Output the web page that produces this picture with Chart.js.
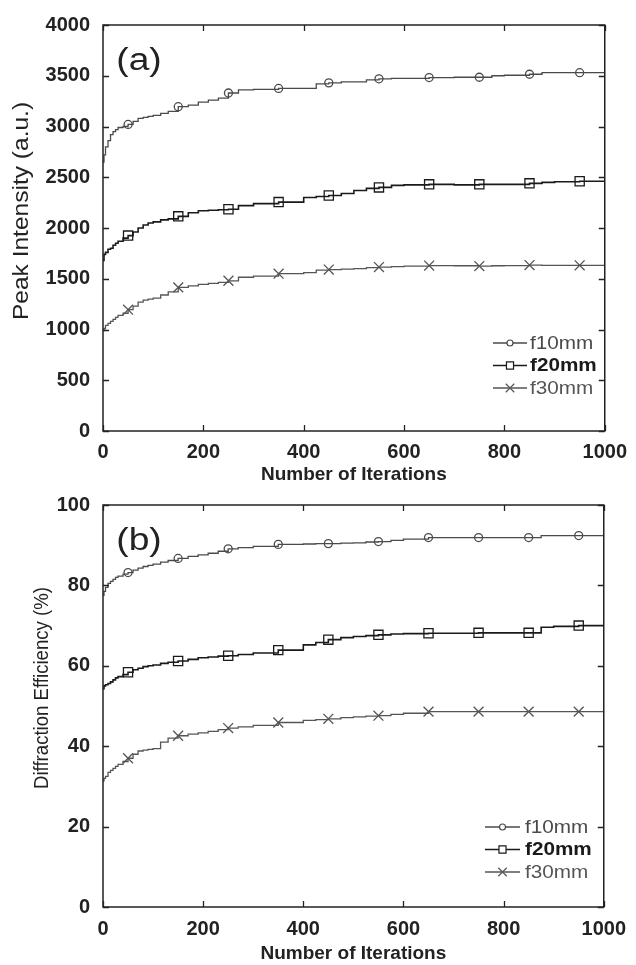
<html>
<head>
<meta charset="utf-8">
<title>Peak intensity and diffraction efficiency vs iterations</title>
<script src="https://cdn.jsdelivr.net/npm/chart.js@4.4.0/dist/chart.umd.min.js"></script>
<style>
    body { margin: 0; background: #fff; }
    .wrap { position: relative; width: 636px; height: 965px; }
    canvas { position: absolute; left: 0; }
    #chartA { top: 0; }
    #chartB { top: 480px; }
</style>
</head>
<body>
<div class="wrap">
    <canvas id="chartA" width="636" height="490"></canvas>
    <canvas id="chartB" width="636" height="485"></canvas>
</div>

<script>
// iteration positions where values were read
var iterations = [0, 2, 5, 10, 15, 20, 25, 30, 40, 50, 60, 70, 80, 90, 100, 115, 130, 150, 170, 190, 210, 230, 250, 270, 300,
    350, 400, 425, 450, 475, 500, 525, 550, 575, 600, 650, 700, 750, 775, 800, 850, 875, 900, 950, 1000];

// (a) peak intensity, a.u.
var peakF10 = [2650, 2720, 2800, 2860, 2920, 2950, 2970, 2990, 3000, 3020, 3050, 3080, 3090, 3100, 3110, 3130, 3150, 3195, 3210, 3240, 3260, 3280, 3330, 3360, 3365,
    3375, 3375, 3420, 3430, 3440, 3440, 3460, 3470, 3475, 3475, 3482, 3485, 3485, 3500, 3505, 3515, 3530, 3530, 3530, 3520];
var peakF20 = [1680, 1740, 1760, 1790, 1800, 1830, 1850, 1870, 1900, 1925, 1960, 2000, 2030, 2050, 2060, 2080, 2090, 2115, 2150, 2170, 2175, 2180, 2185, 2220, 2240,
    2255, 2300, 2310, 2320, 2340, 2370, 2390, 2400, 2420, 2425, 2430, 2425, 2430, 2430, 2430, 2440, 2450, 2455, 2460, 2475];
var peakF30 = [990, 1010, 1040, 1060, 1080, 1100, 1120, 1140, 1160, 1195, 1230, 1270, 1290, 1300, 1310, 1340, 1370, 1415, 1430, 1445, 1455, 1465, 1480, 1515, 1525,
    1550, 1560, 1585, 1590, 1595, 1600, 1610, 1615, 1620, 1625, 1630, 1628, 1625, 1628, 1630, 1635, 1632, 1632, 1632, 1632];

// (b) diffraction efficiency, %
var effF10 = [77.5, 78.5, 79.5, 80.5, 81, 81.5, 82, 82.3, 82.8, 83.2, 83.8, 84.3, 84.7, 85, 85.3, 85.8, 86.2, 86.7, 87.2, 87.6, 88, 88.5, 89.1, 89.4, 89.7,
    90.2, 90.3, 90.4, 90.4, 90.5, 90.6, 90.8, 90.9, 91.2, 91.5, 91.9, 91.9, 91.9, 91.9, 91.9, 91.9, 92.4, 92.4, 92.4, 92.6];
var effF20 = [54.3, 55, 55.3, 55.6, 56, 56.5, 57, 57.3, 57.8, 58.4, 59, 59.4, 59.8, 60, 60.2, 60.6, 60.9, 61.2, 61.6, 62, 62.2, 62.4, 62.5, 62.8, 63.2,
    63.9, 65.2, 65.8, 66.5, 67, 67.3, 67.5, 67.7, 67.9, 68, 68.1, 68.1, 68.2, 68.2, 68.2, 68.2, 69.6, 69.8, 70, 71];
var effF30 = [31.4, 32, 32.5, 33.5, 34, 34.5, 35, 35.5, 36.2, 37, 38, 38.8, 39, 39.2, 39.4, 41, 42, 42.6, 43, 43.3, 43.7, 44.1, 44.5, 44.8, 45.2,
    45.9, 46.4, 46.6, 46.8, 47.1, 47.3, 47.5, 47.6, 47.9, 48.2, 48.6, 48.6, 48.6, 48.6, 48.6, 48.6, 48.6, 48.6, 48.6, 48.7];

var seriesNames = ['f10mm', 'f20mm', 'f30mm'];
var xTicks = [0, 200, 400, 600, 800, 1000];
var peakTicks = [0, 500, 1000, 1500, 2000, 2500, 3000, 3500, 4000];
var effTicks = [0, 20, 40, 60, 80, 100];

var FONT = '"Liberation Sans", Arial, sans-serif';
var styles = [
    { color: '#4a4a4a', point: 'circle', radius: 4, legendRadius: 3, width: 1.3 },
    { color: '#1a1a1a', point: 'rect', radius: 6.5, legendRadius: 5, width: 1.6 },
    { color: '#555555', point: 'crossRot', radius: 7, legendRadius: 6, width: 1.3 }
];

function toPoints(values) {
    return iterations.map(function(it, i) { return { x: it, y: values[i] }; });
}

// text squeezed or stretched along its own direction
function drawText(ctx, text, x, y, font, sx, angle) {
    ctx.save();
    ctx.translate(x, y);
    ctx.rotate(angle || 0);
    ctx.scale(sx, 1);
    ctx.font = font;
    ctx.textAlign = 'center';
    ctx.textBaseline = 'middle';
    ctx.fillText(text, 0, 0);
    ctx.restore();
}

// frame, inward ticks, panel letter, y title and legend
var framePlugin = {
    id: 'frame',
    afterDraw: function(chart, args, opts) {
        var ctx = chart.ctx, a = chart.chartArea;
        var xs = chart.scales.x, ys = chart.scales.y;
        ctx.save();
        ctx.strokeStyle = '#222';
        ctx.lineWidth = 1.5;
        ctx.strokeRect(a.left, a.top, a.right - a.left, a.bottom - a.top);
        ctx.lineWidth = 1.3;
        ctx.beginPath();
        xs.ticks.forEach(function(t) {
            var px = Math.round(xs.getPixelForValue(t.value)) + 0.5;
            ctx.moveTo(px, a.bottom); ctx.lineTo(px, a.bottom - 6);
            ctx.moveTo(px, a.top); ctx.lineTo(px, a.top + 6);
        });
        ys.ticks.forEach(function(t) {
            var py = Math.round(ys.getPixelForValue(t.value)) + 0.5;
            ctx.moveTo(a.left, py); ctx.lineTo(a.left + 6, py);
            ctx.moveTo(a.right, py); ctx.lineTo(a.right - 6, py);
        });
        ctx.stroke();

        ctx.fillStyle = '#222';
        drawText(ctx, opts.label, a.left + 36, a.top + 36, '31px ' + FONT, 1.2, 0);

        var yt = opts.yTitle;
        drawText(ctx, yt.text, yt.x, yt.y, yt.size + 'px ' + FONT, yt.sx, -Math.PI / 2);

        // legend
        var lg = opts.legend;
        chart.data.datasets.forEach(function(ds, i) {
            var st = styles[i];
            var y = lg.y + i * 22.5;
            ctx.strokeStyle = st.color;
            ctx.lineWidth = st.width;
            ctx.beginPath();
            ctx.moveTo(lg.x, y); ctx.lineTo(lg.x + lg.len, y);
            ctx.stroke();
            ctx.fillStyle = '#fff';
            ctx.lineWidth = 1.2;
            Chart.helpers.drawPoint(ctx, { pointStyle: st.point, radius: st.legendRadius, rotation: 0, borderWidth: 1.2 }, lg.x + lg.len / 2, y);
            ctx.fillStyle = st.color;
            ctx.save();
            ctx.translate(lg.textX, y + 1);
            ctx.scale(1.15, 1);
            ctx.font = (i === 1 ? 'bold ' : '') + '18px ' + FONT;
            ctx.textAlign = 'left';
            ctx.textBaseline = 'middle';
            ctx.fillText(ds.label, 0, 0);
            ctx.restore();
        });
        ctx.restore();
    }
};

function makeChart(id, series, yTicks, yMax, layout) {
    var datasets = series.map(function(vals, i) {
        var st = styles[i];
        return {
            label: seriesNames[i],
            data: toPoints(vals),
            borderColor: st.color,
            borderWidth: st.width,
            stepped: true,
            pointStyle: st.point,
            pointBorderColor: st.color,
            pointBackgroundColor: 'rgba(0,0,0,0)',
            pointBorderWidth: 1.3,
            pointRadius: function(c) { return c.raw && c.raw.x % 100 === 50 ? st.radius : 0; }
        };
    });

    var tickFont = { family: FONT, size: 20, weight: 'bold' };

    return new Chart(document.getElementById(id), {
        type: 'line',
        data: { datasets: datasets },
        plugins: [framePlugin],
        options: {
            responsive: false,
            animation: false,
            events: [],
            layout: { padding: { left: 0, right: 24, top: layout.top, bottom: 0 } },
            plugins: {
                legend: { display: false },
                tooltip: { enabled: false },
                frame: { label: layout.label, legend: layout.legend, yTitle: layout.yTitle }
            },
            scales: {
                x: {
                    type: 'linear',
                    min: 0, max: 1000,
                    afterBuildTicks: function(s) { s.ticks = xTicks.map(function(v) { return { value: v }; }); },
                    afterFit: function(s) { s.height = layout.xHeight; },
                    grid: { display: false, drawTicks: false, tickLength: 0 },
                    border: { display: false },
                    ticks: { color: '#222', padding: layout.xPad, font: tickFont, callback: function(v) { return String(v); } },
                    title: {
                        display: true, text: 'Number of Iterations', color: '#222',
                        font: { family: FONT, size: 19, weight: 'bold' },
                        padding: { top: 0, bottom: layout.titlePad }
                    }
                },
                y: {
                    type: 'linear',
                    min: 0, max: yMax,
                    afterBuildTicks: function(s) { s.ticks = yTicks.map(function(v) { return { value: v }; }); },
                    afterFit: function(s) { s.width = 103; },
                    grid: { display: false, drawTicks: false, tickLength: 0 },
                    border: { display: false },
                    ticks: { color: '#222', padding: 13, font: tickFont, callback: function(v) { return String(v); } }
                }
            }
        }
    });
}

makeChart('chartA', [peakF10, peakF20, peakF30], peakTicks, 4000, {
    top: 24, xHeight: 59, xPad: 9, titlePad: 4, label: '(a)',
    yTitle: { text: 'Peak Intensity (a.u.)', x: 22, y: 211, size: 22, sx: 1.115 },
    legend: { x: 493, len: 34, textX: 530, y: 343 }
});
makeChart('chartB', [effF10, effF20, effF30], effTicks, 100, {
    top: 22, xHeight: 58, xPad: 10, titlePad: 0, label: '(b)',
    yTitle: { text: 'Diffraction Efficiency (%)', x: 42, y: 208, size: 20, sx: 0.93 },
    legend: { x: 485, len: 35, textX: 525, y: 347 }
});
</script>
</body>
</html>
